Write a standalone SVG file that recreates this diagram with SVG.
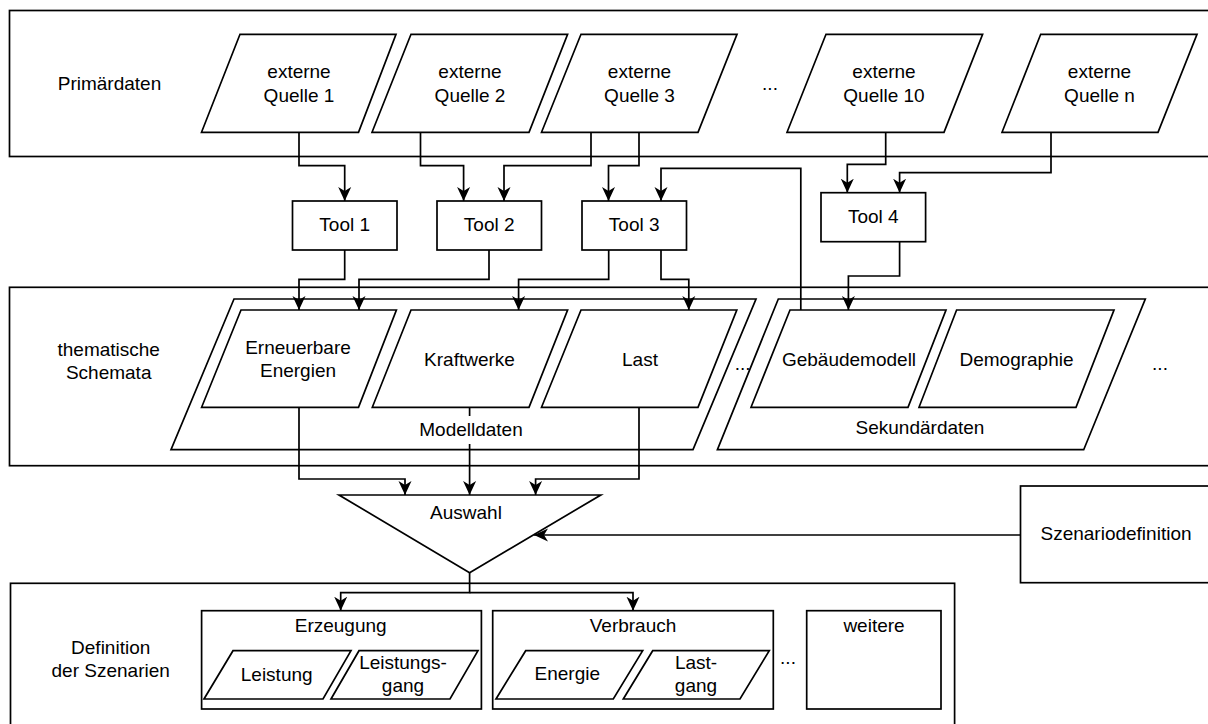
<svg xmlns="http://www.w3.org/2000/svg" width="1208" height="724" viewBox="0 0 1208 724">
<style>
.s{fill:#fff;stroke:#000;stroke-width:1.7}
text{font-family:"Liberation Sans",Arial,Helvetica,sans-serif;font-size:19px;fill:#000;text-anchor:middle}
.c{fill:none;stroke:#000;stroke-width:1.7}
.a{marker-end:url(#arr)}
</style>
<defs>
<marker id="arr" markerUnits="userSpaceOnUse" viewBox="0 0 15 14" refX="14" refY="7" markerWidth="15" markerHeight="14" orient="auto">
<path d="M0,0.5 L14,7 L0,13.5 L4,7 Z" fill="#000"/>
</marker>
</defs>
<rect width="1208" height="724" fill="#fff"/>

<g id="band-primaer">
<rect class="s" x="9.5" y="10.5" width="1220" height="146"/>
<text x="109.5" y="90">Primärdaten</text>
<text x="770" y="90">...</text>
</g>
<g id="band-thematisch">
<rect class="s" x="9.5" y="287.3" width="1220" height="178.4"/>
<text x="108.7" y="356">thematische</text>
<text x="108.7" y="379.3">Schemata</text>
<text x="742.6" y="370">...</text>
<text x="1160" y="370">...</text>
</g>
<g id="band-definition">
<rect class="s" x="10.5" y="583.3" width="944.1" height="160"/>
<text x="110.7" y="654">Definition</text>
<text x="110.7" y="677.3">der Szenarien</text>
<text x="788" y="664">...</text>
</g>

<g id="q1"><polygon class="s" points="240,34.3 396,34.3 358.5,132.3 201.5,132.3"/><text x="299" y="78.3">externe</text><text x="299" y="101.7">Quelle 1</text></g>
<g id="q2"><polygon class="s" points="411,34.3 567.6,34.3 529,132.3 372,132.3"/><text x="470" y="78.3">externe</text><text x="470" y="101.7">Quelle 2</text></g>
<g id="q3"><polygon class="s" points="581,34.3 737,34.3 698,132.3 541.5,132.3"/><text x="639.5" y="78.3">externe</text><text x="639.5" y="101.7">Quelle 3</text></g>
<g id="q10"><polygon class="s" points="826,34.3 982.6,34.3 944,132.3 787,132.3"/><text x="884" y="78.3">externe</text><text x="884" y="101.7">Quelle 10</text></g>
<g id="qn"><polygon class="s" points="1040.7,34.3 1197,34.3 1158,132.3 1002,132.3"/><text x="1099.5" y="78.3">externe</text><text x="1099.5" y="101.7">Quelle n</text></g>

<g id="tool1"><rect class="s" x="292.5" y="201" width="104.5" height="49"/><text x="344.7" y="231">Tool 1</text></g>
<g id="tool2"><rect class="s" x="437" y="201" width="104.5" height="49"/><text x="489.2" y="231">Tool 2</text></g>
<g id="tool3"><rect class="s" x="582" y="201" width="104.5" height="49"/><text x="634.2" y="231">Tool 3</text></g>
<g id="tool4"><rect class="s" x="821" y="192.7" width="104.6" height="49"/><text x="873.3" y="222.7">Tool 4</text></g>

<g id="modelldaten"><polygon class="s" points="234,299 756,299 693,449.7 171,449.7"/><text x="471" y="436">Modelldaten</text></g>
<g id="sekundaerdaten"><polygon class="s" points="778.3,299 1145.3,299 1083.7,449.7 717.4,449.7"/><text x="920" y="434">Sekundärdaten</text></g>

<g id="ee"><polygon class="s" points="241,310 396.4,310 358.5,407.3 201.6,407.3"/><text x="298" y="354">Erneuerbare</text><text x="298" y="377">Energien</text></g>
<g id="kraftwerke"><polygon class="s" points="411,310 567.6,310 529,407.3 372.3,407.3"/><text x="469.5" y="366">Kraftwerke</text></g>
<g id="last"><polygon class="s" points="581,310 736.8,310 698,407.3 541.5,407.3"/><text x="640" y="366">Last</text></g>
<g id="gebaeudemodell"><polygon class="s" points="790,310 946,310 908,407.3 751,407.3"/><text x="849" y="366">Gebäudemodell</text></g>
<g id="demographie"><polygon class="s" points="956.6,310 1114,310 1076,407.3 919,407.3"/><text x="1016.5" y="366">Demographie</text></g>

<g id="auswahl"><polygon class="s" points="339,495 600.8,495 469.6,572.7"/><text x="466" y="519">Auswahl</text></g>
<g id="szenariodefinition"><rect class="s" x="1020.5" y="486" width="200" height="96.7"/><text x="1116" y="540">Szenariodefinition</text></g>

<g id="erzeugung"><rect class="s" x="201.6" y="610.7" width="279.8" height="98.3"/><text x="340.7" y="632">Erzeugung</text></g>
<g id="leistung"><polygon class="s" points="233,650.7 351,650.7 323,699 204,699"/><text x="276.7" y="681">Leistung</text></g>
<g id="leistungsgang"><polygon class="s" points="359,650.7 478,650.7 450,699 331,699"/><text x="403" y="669.3">Leistungs-</text><text x="403" y="692.3">gang</text></g>
<g id="verbrauch"><rect class="s" x="492.7" y="610.7" width="280.6" height="98.3"/><text x="633" y="632">Verbrauch</text></g>
<g id="energie"><polygon class="s" points="525.7,650.7 642.7,650.7 613.3,699 496,699"/><text x="567.3" y="680">Energie</text></g>
<g id="lastgang"><polygon class="s" points="652.7,650.7 769.3,650.7 740,699 623.3,699"/><text x="696" y="669">Last-</text><text x="696" y="691.7">gang</text></g>
<g id="weitere"><rect class="s" x="806.7" y="610.7" width="134.3" height="98.3"/><text x="874" y="632.3">weitere</text></g>

<g id="connectors">
<path class="c a" d="M299,132.3 V165.7 H344.7 V201"/>
<path class="c a" d="M420.5,132.3 V165.7 H463.6 V201"/>
<path class="c a" d="M591,132.3 V165.7 H504 V201"/>
<path class="c a" d="M639,132.3 V165.7 H608.5 V201"/>
<path class="c a" d="M800.8,310 V168.3 H661 V201"/>
<path class="c a" d="M885.7,132.3 V164.3 H847.3 V192.7"/>
<path class="c a" d="M1051,132.3 V172.7 H899.6 V192.7"/>
<path class="c a" d="M344.7,250 V279.3 H299 V310"/>
<path class="c a" d="M489,250 V279.3 H359 V310"/>
<path class="c a" d="M608.7,250 V279.3 H518.6 V310"/>
<path class="c a" d="M661,250 V279.3 H688.8 V310"/>
<path class="c a" d="M899.6,241.7 V276 H848.4 V310"/>
<path class="c a" d="M299,407.3 V479 H405 V495"/>
<path class="c" d="M469.6,407.3 V416"/>
<path class="c a" d="M469.6,444 V495"/>
<path class="c a" d="M639,407.3 V479 H535.6 V495"/>
<path class="c a" d="M1020.5,535 H534"/>
<path class="c a" d="M469.6,572.7 V592.7 H340.7 V610.7"/>
<path class="c a" d="M469.6,592.7 H633 V610.7"/>
</g>
</svg>
